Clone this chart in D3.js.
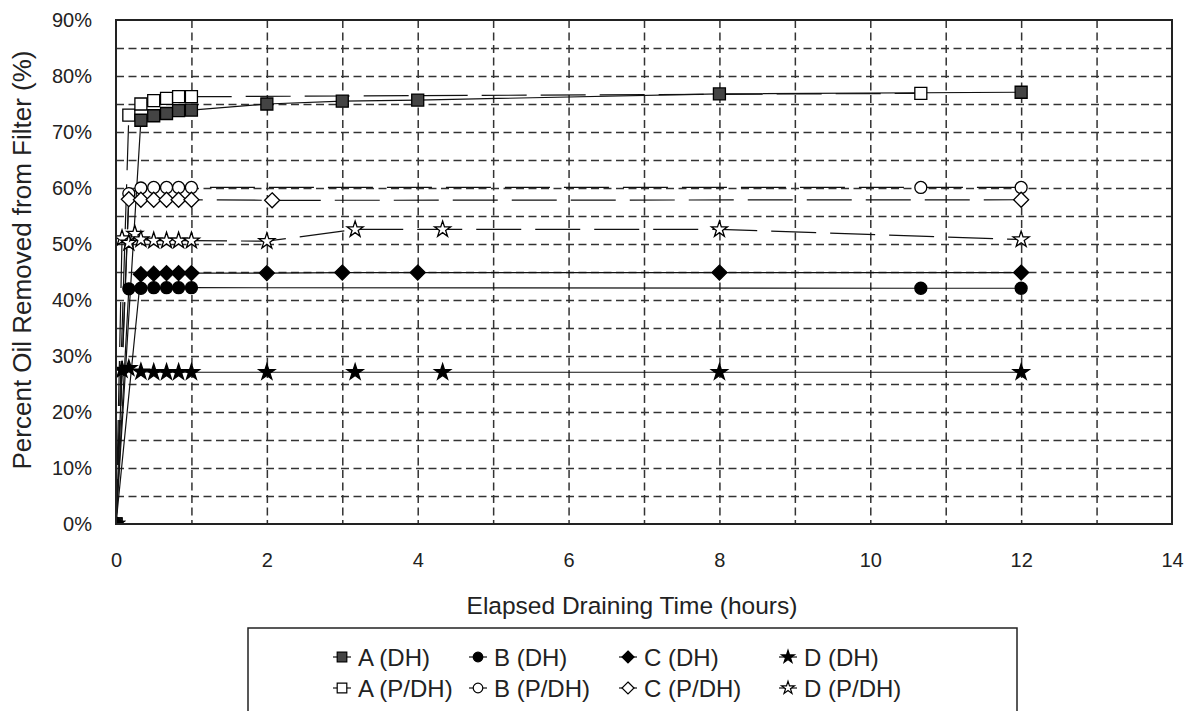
<!DOCTYPE html>
<meta charset="utf-8">
<script src="https://d3js.org/d3.v7.min.js"></script>
<style>
  body { margin: 0; background: #fff; }
  text { font-family: Arial, "Liberation Sans", sans-serif; fill: #222; }
</style>
<div id="chart"></div>
<script>
// elapsed draining time (hours) and percent oil removed, one pair of arrays per series
const tA_DH = [0, 0.33, 0.5, 0.67, 0.83, 1, 2, 3, 4, 8, 12];
const vA_DH = [0, 72.1, 72.9, 73.3, 73.8, 73.9, 75.0, 75.5, 75.7, 76.8, 77.1];
const tB_DH = [0, 0.17, 0.33, 0.5, 0.67, 0.83, 1, 10.67, 12];
const vB_DH = [0, 42.0, 42.1, 42.2, 42.2, 42.2, 42.2, 42.1, 42.1];
const tC_DH = [0, 0.33, 0.5, 0.67, 0.83, 1, 2, 3, 4, 8, 12];
const vC_DH = [0, 44.6, 44.7, 44.8, 44.8, 44.8, 44.8, 44.9, 44.9, 44.9, 44.9];
const tD_DH = [0, 0.08, 0.17, 0.33, 0.5, 0.67, 0.83, 1, 2, 3.17, 4.33, 8, 12];
const vD_DH = [0, 27.5, 27.8, 27.2, 27.1, 27.1, 27.1, 27.1, 27.1, 27.1, 27.1, 27.1, 27.1];

const tA_PDH = [0, 0.17, 0.33, 0.5, 0.67, 0.83, 1, 10.67];
const vA_PDH = [0, 73.0, 75.0, 75.6, 76.0, 76.3, 76.3, 76.9];
const tB_PDH = [0, 0.17, 0.33, 0.5, 0.67, 0.83, 1, 10.67, 12];
const vB_PDH = [0, 59.0, 60.0, 60.1, 60.1, 60.1, 60.1, 60.1, 60.1];
const tC_PDH = [0, 0.17, 0.33, 0.5, 0.67, 0.83, 1, 2.07, 12];
const vC_PDH = [0, 58.0, 57.9, 57.9, 57.9, 57.9, 57.9, 57.8, 57.9];
const tD_PDH = [0, 0.08, 0.17, 0.25, 0.33, 0.5, 0.67, 0.83, 1, 2, 3.17, 4.33, 8, 12];
const vD_PDH = [0, 51.0, 50.2, 51.8, 50.8, 50.6, 50.6, 50.6, 50.6, 50.5, 52.6, 52.6, 52.6, 50.8];

const xTicks = [0, 2, 4, 6, 8, 10, 12, 14];
const yTicks = [0, 10, 20, 30, 40, 50, 60, 70, 80, 90];

// series table built from the arrays above (drawing order: P/DH first, DH on top)
const series = [
  {name: "A (P/DH)", t: tA_PDH, v: vA_PDH, shape: "square",  fill: "#fff", dash: "45,14"},
  {name: "B (P/DH)", t: tB_PDH, v: vB_PDH, shape: "circle",  fill: "#fff", dash: "45,14"},
  {name: "C (P/DH)", t: tC_PDH, v: vC_PDH, shape: "diamond", fill: "#fff", dash: "45,14"},
  {name: "D (P/DH)", t: tD_PDH, v: vD_PDH, shape: "star",    fill: "#fff", dash: "45,14"},
  {name: "A (DH)",   t: tA_DH,  v: vA_DH,  shape: "square",  fill: "#444", dash: null},
  {name: "B (DH)",   t: tB_DH,  v: vB_DH,  shape: "circle",  fill: "#000", dash: null},
  {name: "C (DH)",   t: tC_DH,  v: vC_DH,  shape: "diamond", fill: "#000", dash: null},
  {name: "D (DH)",   t: tD_DH,  v: vD_DH,  shape: "star",    fill: "#000", dash: null}
];
const legendOrder = ["A (DH)", "B (DH)", "C (DH)", "D (DH)", "A (P/DH)", "B (P/DH)", "C (P/DH)", "D (P/DH)"];

const margin = {top: 20, right: 17, bottom: 187, left: 116};
const width = 1189 - margin.left - margin.right;
const height = 711 - margin.top - margin.bottom;

const svg = d3.select("#chart").append("svg")
  .attr("width", 1189)
  .attr("height", 711);

const g = svg.append("g")
  .attr("transform", "translate(" + margin.left + "," + margin.top + ")");

const x = d3.scaleLinear().domain([0, 14]).range([0, width]);
const y = d3.scaleLinear().domain([0, 90]).range([height, 0]);

// dashed gridlines: every hour and every 5%
g.append("g")
  .attr("class", "grid")
  .call(d3.axisBottom(x).tickValues(d3.range(1, 14)).tickSize(height).tickFormat(""))
  .call(s => s.select(".domain").remove());
g.append("g")
  .attr("class", "grid")
  .call(d3.axisLeft(y).tickValues(d3.range(5, 90, 5)).tickSize(-width).tickFormat(""))
  .call(s => s.select(".domain").remove());
g.selectAll(".grid line")
  .attr("stroke", "#333")
  .attr("stroke-width", 1.5)
  .attr("stroke-dasharray", "8,4.5");

// axes labels
g.append("g")
  .attr("transform", "translate(0," + height + ")")
  .call(d3.axisBottom(x).tickValues(xTicks).tickSize(0).tickPadding(29))
  .call(s => s.select(".domain").remove())
  .selectAll("text")
  .style("font-size", "20px");
g.append("g")
  .call(d3.axisLeft(y).tickValues(yTicks).tickSize(0).tickPadding(24).tickFormat(d => d + "%"))
  .call(s => s.select(".domain").remove())
  .selectAll("text")
  .style("font-size", "20px");

g.append("text")
  .attr("x", width / 2 - 12)
  .attr("y", height + 90)
  .attr("text-anchor", "middle")
  .style("font-size", "24.5px")
  .text("Elapsed Draining Time (hours)");
g.append("text")
  .attr("transform", "translate(" + (-85) + "," + (height / 2 - 12) + ") rotate(-90)")
  .attr("text-anchor", "middle")
  .style("font-size", "26px")
  .text("Percent Oil Removed from Filter (%)");

// markers
function markerPath(shape, scale) {
  const k = scale || 1;
  if (shape === "square") return d3.symbol(d3.symbolSquare, 144 * k * k)();
  if (shape === "circle") return d3.symbol(d3.symbolCircle, 113 * k * k)();
  if (shape === "star") return d3.symbol(d3.symbolStar, 80 * k * k)();
  const r = 7.5 * k;
  return "M0," + (-r) + "L" + r + ",0L0," + r + "L" + (-r) + ",0Z";
}

g.append("clipPath").attr("id", "plotClip")
  .append("rect").attr("width", width).attr("height", height);

const plot = g.append("g").attr("clip-path", "url(#plotClip)");

const line = d3.line().x(d => x(d[0])).y(d => y(d[1]));

series.forEach(s => {
  const pts = s.t.map((t, i) => [t, s.v[i]]);
  plot.append("path")
    .datum(pts)
    .attr("fill", "none")
    .attr("stroke", "#111")
    .attr("stroke-width", 1.2)
    .attr("stroke-dasharray", s.dash)
    .attr("d", line);
});
series.forEach(s => {
  const pts = s.t.map((t, i) => [t, s.v[i]]);
  plot.selectAll(null)
    .data(pts)
    .enter().append("path")
    .attr("transform", d => "translate(" + x(d[0]) + "," + y(d[1]) + ")")
    .attr("d", markerPath(s.shape))
    .attr("fill", s.fill)
    .attr("stroke", "#000")
    .attr("stroke-width", 1.3);
});

// plot border
g.append("rect")
  .attr("width", width)
  .attr("height", height)
  .attr("fill", "none")
  .attr("stroke", "#222")
  .attr("stroke-width", 2);

// legend
const legend = svg.append("g");
legend.append("rect")
  .attr("x", 248).attr("y", 628)
  .attr("width", 769).attr("height", 120)
  .attr("fill", "#fff")
  .attr("stroke", "#222")
  .attr("stroke-width", 1.5);

const colX = [342, 478, 628, 788];
const rowY = [657, 688];
legendOrder.forEach((name, i) => {
  const s = series.find(d => d.name === name);
  const cx = colX[i % 4], cy = rowY[Math.floor(i / 4)];
  legend.append("line")
    .attr("x1", cx - 9).attr("x2", cx + 9)
    .attr("y1", cy).attr("y2", cy)
    .attr("stroke", "#111").attr("stroke-width", 1.2);
  legend.append("path")
    .attr("transform", "translate(" + cx + "," + cy + ")")
    .attr("d", markerPath(s.shape, 0.8))
    .attr("fill", s.fill)
    .attr("stroke", "#000")
    .attr("stroke-width", 1.2);
  legend.append("text")
    .attr("x", cx + 16)
    .attr("y", cy)
    .attr("dy", "0.36em")
    .style("font-size", "24px")
    .text(name);
});
</script>
